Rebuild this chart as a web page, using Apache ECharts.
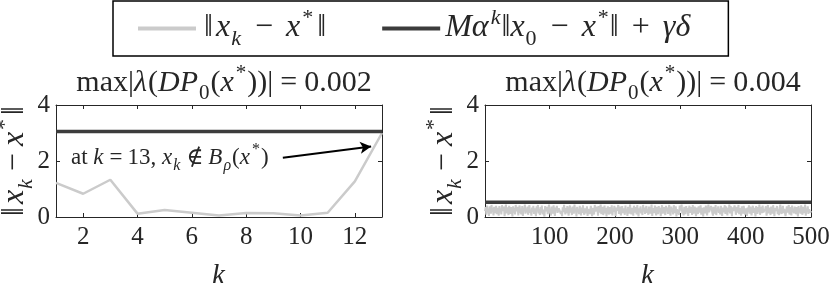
<!DOCTYPE html>
<html><head><meta charset="utf-8">
<script src="https://cdn.jsdelivr.net/npm/echarts@6/dist/echarts.min.js"></script>
<style>html,body{margin:0;padding:0;background:#fff}#c{width:830px;height:283px}</style>
</head><body><div id="c"></div>
<script>
// ---- data ----
const kLeft = [1,2,3,4,5,6,7,8,9,10,11,12,13];
const errLeft = [1.22,0.83,1.33,0.12,0.25,0.15,0.05,0.14,0.13,0.05,0.15,1.27,3.0];
const boundLeft = 3.05;
const boundRight = 0.53;
const errRight = [
.21,.35,.08,.41,.17,.29,.04,.38,.25,.12,.43,.19,.31,.06,.36,.23,.14,.40,.10,.33,.27,.05,.39,.18,.30,
.09,.42,.22,.15,.37,.03,.28,.44,.13,.34,.20,.07,.40,.26,.11,.35,.24,.02,.38,.16,.32,.09,.43,.21,.14,
.36,.06,.29,.41,.18,.25,.10,.39,.04,.33,.22,.44,.12,.30,.17,.37,.08,.27,.42,.15,.23,.05,.34,.19,.40,
.11,.31,.24,.03,.38,.20,.43,.13,.28,.07,.35,.16,.41,.09,.26,.33,.02,.39,.21,.14,.36,.10,.29,.44,.18,
.25,.06,.37,.30,.12,.42,.19,.04,.34,.23,.40,.15,.08,.31,.27,.38,.11,.22,.03,.35,.17,.43,.26,.09,.32,
.14,.39,.20,.05,.28,.41,.16,.33,.07,.37,.24,.12,.44,.21,.30,.02,.36,.18,.27,.10,.40,.23,.06,.34,.15,
.42,.19,.08,.31,.25,.13,.38,.04,.29,.35,.11,.22,.40,.17,.03,.33,.26,.09,.43,.20,.14,.37,.28,.05,.39,
.16,.30,.44,.10,.24,.36,.07,.21,.41,.13,.32,.02,.27,.38,.18,.09,.35,.23,.12,.42,.06,.29,.19,.40,.25,
.03,.34,.22,.15,.43,.11,.28,.37,.06,.20,.39,.14,.31,.24,.08,.41,.17,.26,.04,.36,.30,.12,.44,.19,.10,
.33,.21,.05,.40,.27,.16,.35,.09,.42,.23,.02,.31,.18,.38,.13,.25,.07,.43,.20,.34,.11,.29,.39,.15,.26,
.08,.37,.30,.12,.19,.44,.04,.32,.24,.14,.41,.22,.06,.36,.28,.10,.39,.17,.33,.03,.25,.42,.13,.21,.35,
.18,.07,.40,.26,.34,.11,.29,.43,.15,.05,.37,.20,.31,.09,.42,.24,.14,.38,.02,.27,.33,.16,.08,.41,.23,
.30,.44,.13,.21,.06,.36,.25,.10,.39,.18,.32,.04,.28,.40,.15,.22,.35,.07,.43,.12,.26,.37,.19,.03,.34,
.20,.11,.38,.29,.16,.42,.08,.33,.24,.02,.35,.27,.13,.41,.19,.06,.30,.44,.17,.23,.10,.39,.31,.14,.05,
.36,.25,.12,.43,.07,.31,.20,.38,.15,.28,.09,.40,.22,.04,.34,.17,.26,.42,.11,.37,.29,.06,.33,.18,.44,
.13,.39,.27,.03,.35,.21,.14,.41,.30,.08,.24,.36,.16,.43,.10,.32,.19,.05,.38,.25,.12,.40,.22,.09,.31,
.27,.04,.34,.18,.42,.12,.37,.23,.06,.29,.40,.15,.33,.20,.02,.39,.26,.11,.35,.17,.44,.08,.28,.36,.14,
.41,.16,.22,.09,.30,.38,.05,.26,.43,.13,.19,.34,.07,.37,.24,.12,.42,.28,.03,.32,.21,.15,.39,.10,.27,
.07,.32,.44,.19,.11,.25,.40,.14,.29,.36,.03,.21,.38,.16,.31,.43,.09,.23,.35,.06,.41,.18,.26,.13,.37,
.24,.10,.35,.28,.02,.39,.17,.31,.12,.42,.20,.08,.36,.25,.14,.44,.05,.30,.19,.38,.11,.27,.33,.16,.22
];
const xTicksLeft = [2,4,6,8,10,12];
const xTicksRight = [100,200,300,400,500];
const nameErr = '‖x_k − x*‖';
const nameBound = 'Mα^k‖x_0 − x*‖ + γδ';
const titleLeft = '0.002';
const titleRight = '0.004';

// ---- styles ----
const SERIF = '"Liberation Serif","DejaVu Serif",serif';
const INK = '#262626';
function richSet(F, opPad){
  const s = Math.round(F*0.7);
  const base = {fontFamily:SERIF,color:INK,fontWeight:'normal',verticalAlign:'top'};
  const op = opPad == null ? Math.round(F*0.22) : opPad;
  const wide = Math.round(F*0.4);
  return {
    r:Object.assign({},base,{fontSize:F,padding:[5,0,0,0]}),
    R:Object.assign({},base,{fontSize:F,padding:[5,3,0,3]}),
    o:Object.assign({},base,{fontSize:F,padding:[5,op,0,op]}),
    O:Object.assign({},base,{fontSize:F,padding:[5,wide,0,wide]}),
    i:Object.assign({},base,{fontSize:F,fontStyle:'italic',padding:[5,1,0,0]}),
    s:Object.assign({},base,{fontSize:s,fontStyle:'italic',padding:[5+F*0.5,1,0,0]}),
    n:Object.assign({},base,{fontSize:s,padding:[5+F*0.5,1,0,0]}),
    p:Object.assign({},base,{fontSize:s,padding:[0,1,0,1]}),
    q:Object.assign({},base,{fontSize:s,fontStyle:'italic',padding:[0,1,0,1]})
  };
}
const errRich = '{R|‖}{i|x}{s|k}{O|−}{i|x}{p|*}{R|‖}';
const errAxisRich = '{R|‖}{i|x}{s|k}{o|−}{i|x}{p|*}{R|‖}';
const boundRich = '{i|Mα}{q|k}{r|‖}{i|x}{n|0}{O|−}{i|x}{p|*}{r|‖}{O|+}{i|γδ}';
function titleRich(v){ return '{r|max|}{i|λ}{r|(}{i|DP}{n|0}{r|(}{i|x}{p|*}{r|))|}{o|=}{r|'+v+'}'; }

const GREY = '#cbcbcb', DARK = '#3c3c3c';
const grids = [
  {left:56, width:326, top:105, height:112, outerBoundsMode:'none', containLabel:false},
  {left:485, width:326, top:105, height:112, outerBoundsMode:'none', containLabel:false}
];
const TICKF = 25;
function xAxes(gi, min, max, ticks){
  return [{
    gridIndex:gi, type:'value', min:min, max:max,
    axisLine:{show:true,onZero:false,lineStyle:{color:INK,width:1}},
    axisTick:{show:true,inside:true,length:4,customValues:ticks,lineStyle:{color:INK}},
    axisLabel:{customValues:ticks,fontFamily:SERIF,fontSize:TICKF,color:INK,margin:8},
    splitLine:{show:false},
    name:'{i|k}', nameLocation:'middle', nameGap:40, nameMoveOverlap:false,
    nameTextStyle:{rich:richSet(29)}
  },{
    gridIndex:gi, type:'value', min:min, max:max, position:'top',
    axisLine:{show:true,onZero:false,lineStyle:{color:INK,width:1}},
    axisTick:{show:true,inside:true,length:4,customValues:ticks,lineStyle:{color:INK}},
    axisLabel:{show:false}, splitLine:{show:false}
  }];
}
function yAxes(gi){
  return [{
    gridIndex:gi, type:'value', min:0, max:4, interval:2,
    axisLine:{show:true,onZero:false,lineStyle:{color:INK,width:1}},
    axisTick:{show:true,inside:true,length:4,lineStyle:{color:INK}},
    axisLabel:{fontFamily:SERIF,fontSize:TICKF,color:INK,margin:6},
    splitLine:{show:false},
    name:errAxisRich, nameLocation:'middle', nameGap:19, nameMoveOverlap:false,
    nameTextStyle:{rich:richSet(32)}
  },{
    gridIndex:gi, type:'value', min:0, max:4, interval:2, position:'right',
    axisLine:{show:true,onZero:false,lineStyle:{color:INK,width:1}},
    axisTick:{show:true,inside:true,length:4,lineStyle:{color:INK}},
    axisLabel:{show:false}, splitLine:{show:false}
  }];
}
const xa = xAxes(0,1,13,xTicksLeft).concat(xAxes(1,1,500,xTicksRight));
const ya = yAxes(0).concat(yAxes(1));

const chart = echarts.init(document.getElementById('c'), null, {renderer:'canvas'});
chart.setOption({
  backgroundColor:'#fff',
  animation:false,
  title:[
    {text:titleRich(titleLeft), left:219, textAlign:'center', top:58, textStyle:{rich:richSet(30)}},
    {text:titleRich(titleRight), left:648, textAlign:'center', top:58, textStyle:{rich:richSet(30)}}
  ],
  legend:{
    left:113, top:1,
    padding:[6,38,6,25], itemGap:56, itemWidth:58, itemHeight:4, icon:'rect',
    borderColor:'#000', borderWidth:1.5, backgroundColor:'#fff',
    data:[nameErr, nameBound],
    formatter:function(n){ return n===nameErr ? errRich : boundRich; },
    textStyle:{rich:richSet(32)}
  },
  grid:grids,
  xAxis:xa,
  yAxis:ya,
  series:[
    {name:nameErr, type:'line', xAxisIndex:0, yAxisIndex:0, showSymbol:false, symbol:'none',
     lineStyle:{color:GREY,width:2.5}, itemStyle:{color:GREY},
     data:kLeft.map((k,i)=>[k,errLeft[i]]), z:2,
     markPoint:{symbol:'circle', symbolSize:0.1, silent:true,
       data:[{coord:[1.55,2.12], label:{show:true, position:'right', distance:0,
         formatter:'{r|at }{i|k}{o|=}{r|13, }{i|x}{s|k}{o|∉}{i|B}{s|ρ}{r|(}{i|x}{p|*}{r|)}',
         rich:richSet(23)}}]},
     markLine:{silent:true, symbol:['none','arrow'], symbolSize:[9,11], label:{show:false},
       lineStyle:{color:'#000',width:2,type:'solid',curveness:0.12},
       data:[[{coord:[9.35,2.12]},{coord:[12.6,2.52]}]]}
    },
    {name:nameBound, type:'line', xAxisIndex:0, yAxisIndex:0, showSymbol:false, symbol:'none',
     lineStyle:{color:DARK,width:3.5}, itemStyle:{color:DARK},
     data:[[kLeft[0],boundLeft],[kLeft[kLeft.length-1],boundLeft]], z:3},
    {name:nameErr, type:'line', xAxisIndex:2, yAxisIndex:2, showSymbol:false, symbol:'none',
     lineStyle:{color:GREY,width:2}, itemStyle:{color:GREY},
     data:errRight.map((v,i)=>[i+1,v]), z:2},
    {name:nameBound, type:'line', xAxisIndex:2, yAxisIndex:2, showSymbol:false, symbol:'none',
     lineStyle:{color:DARK,width:3.5}, itemStyle:{color:DARK},
     data:[[1,boundRight],[errRight.length,boundRight]], z:3}
  ]
});
</script></body></html>
